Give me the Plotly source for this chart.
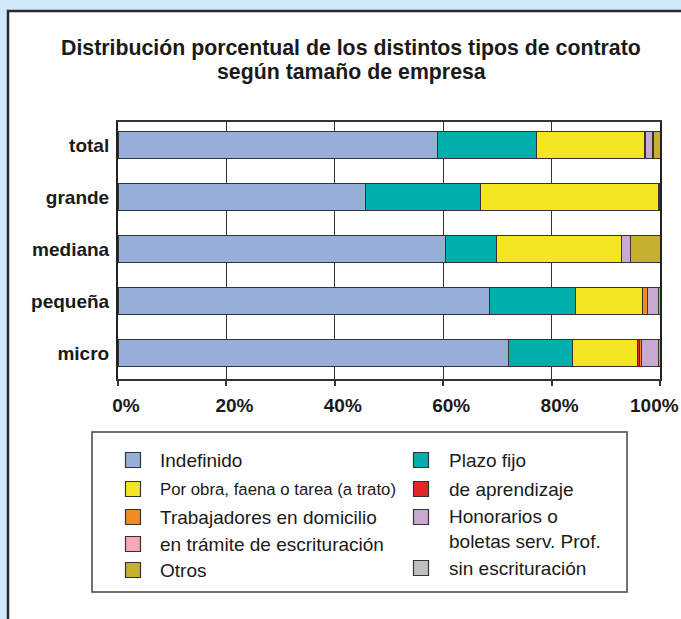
import plotly.graph_objects as go

# ---------------- data ----------------
categories = ["total", "grande", "mediana", "pequeña", "micro"]

series_names = [
    "Indefinido",
    "Plazo fijo",
    "Por obra, faena o tarea (a trato)",
    "de aprendizaje",
    "Trabajadores en domicilio",
    "Honorarios o boletas serv. Prof.",
    "en trámite de escrituración",
    "sin escrituración",
    "Otros",
]

indefinido    = [58.9, 45.6, 60.5, 68.6, 72.0]
plazo_fijo    = [18.3, 21.2,  9.4, 15.8, 11.9]
por_obra      = [20.0, 33.0, 23.0, 12.3, 11.9]
aprendizaje   = [0.1,  0.0,  0.0,  0.0,  0.5]
trabajadores  = [0.1,  0.0,  0.0,  1.0,  0.2]
honorarios    = [1.3,  0.1,  1.7,  2.1,  3.3]
en_tramite    = [0.1,  0.0,  0.0,  0.0,  0.0]
sin_escritura = [0.0,  0.0,  0.0,  0.0,  0.0]
otros         = [1.2,  0.1,  5.4,  0.2,  0.2]

series_values = [indefinido, plazo_fijo, por_obra, aprendizaje, trabajadores,
                 honorarios, en_tramite, sin_escritura, otros]

colors = ["#97aed9", "#00afaa", "#f6e523", "#e32726", "#f58a1f",
          "#c9a8d2", "#f7a9b6", "#c0c0c0", "#c7b02e"]

tick_values = [0, 20, 40, 60, 80, 100]
tick_labels = ["0%", "20%", "40%", "60%", "80%", "100%"]

title_lines = ["Distribución porcentual de los distintos tipos de contrato",
               "según tamaño de empresa"]

# legend layout (column, row position, label text)
legend_items = [
    ("Indefinido", "#97aed9", 0, 460, "Indefinido", 19),
    ("Por obra", "#f6e523", 0, 489, "Por obra, faena o tarea (a trato)", 16.8),
    ("Trabajadores", "#f58a1f", 0, 517, "Trabajadores en domicilio", 19),
    ("en trámite", "#f7a9b6", 0, 544, "en trámite de escrituración", 19),
    ("Otros", "#c7b02e", 0, 570, "Otros", 19),
    ("Plazo fijo", "#00afaa", 1, 460, "Plazo fijo", 19),
    ("aprendizaje", "#e32726", 1, 489, "de aprendizaje", 19),
    ("Honorarios", "#c9a8d2", 1, 517, "Honorarios o<br>boletas serv. Prof.", 19),
    ("sin escrituración", "#c0c0c0", 1, 568, "sin escrituración", 19),
]

# ---------------- geometry helpers ----------------
W, H = 681, 619
L, R, T, B = 118, 21, 122, 240
PW = W - L - R
PH = H - T - B


def px(x):
    return (x - L) / PW


def py(y):
    return (H - B - y) / PH


FONT = "Liberation Sans, Arial, sans-serif"
TICKFONT = dict(family=FONT, size=19, color="#1a1a1a", weight="bold")

fig = go.Figure()
for name, vals, col in zip(series_names, series_values, colors):
    fig.add_trace(go.Bar(
        y=categories, x=vals, orientation="h", name=name,
        marker=dict(color=col, line=dict(color="#333333", width=1)),
        showlegend=False, hoverinfo="x+y+name",
    ))

shapes = []
annotations = []

# white panel with border
shapes.append(dict(type="rect", xref="paper", yref="paper", layer="below",
                   x0=px(8), x1=px(760), y0=py(11), y1=py(700),
                   fillcolor="white", line=dict(color="#2a2a2a", width=2.5)))

# title
for i, line in enumerate(title_lines):
    annotations.append(dict(text=line, xref="paper", yref="paper",
                            x=px(351), y=py(48 + 24 * i), xanchor="center",
                            yanchor="middle", showarrow=False,
                            font=dict(family=FONT, size=21.3, color="#1a1a1a",
                                      weight="bold")))

# legend box
shapes.append(dict(type="rect", xref="paper", yref="paper",
                   x0=px(92), x1=px(627), y0=py(432), y1=py(592),
                   fillcolor="white", line=dict(color="#444444", width=1.5)))

col_sq_x = [133, 421]
col_tx_x = [158, 447]
sq = 15
for _, col, c, ycen, text, fsize in legend_items:
    cx = col_sq_x[c]
    shapes.append(dict(type="rect", xref="paper", yref="paper",
                       x0=px(cx - sq / 2), x1=px(cx + sq / 2),
                       y0=py(ycen - sq / 2), y1=py(ycen + sq / 2),
                       fillcolor=col, line=dict(color="#333333", width=1.2)))
    ylab = ycen
    if "<br>" in text:
        ylab = ycen + 12
    annotations.append(dict(text=text, xref="paper", yref="paper",
                            x=px(col_tx_x[c]), y=py(ylab), xanchor="left",
                            yanchor="middle", align="left", showarrow=False,
                            font=dict(family=FONT, size=fsize, color="#1a1a1a")))

# tick labels sit a little right of their ticks; the last one would run off
# the page, so it is placed flush with the right edge instead
shown_ticks = tick_labels[:-1] + [""]
annotations.append(dict(text=tick_labels[-1], xref="paper", yref="paper",
                        x=px(681), y=py(405), xanchor="right", yanchor="middle",
                        showarrow=False, font=TICKFONT))

fig.update_layout(
    width=W, height=H,
    autosize=False,
    margin=dict(l=L, r=R, t=T, b=B, pad=0, autoexpand=False),
    paper_bgcolor="#cfe9fb",
    plot_bgcolor="white",
    barmode="stack",
    bargap=0.48,
    shapes=shapes,
    annotations=annotations,
    font=dict(family=FONT, color="#1a1a1a"),
    xaxis=dict(
        range=[0, 100], tickvals=tick_values, ticktext=shown_ticks,
        showgrid=True, gridcolor="#333333", gridwidth=1,
        showline=True, linecolor="#333333", linewidth=1.5, mirror=True,
        ticks="outside", ticklen=5, tickcolor="#333333", tickwidth=1.5,
        tickfont=TICKFONT,
        ticklabelstandoff=3, ticklabelshift=8, ticklabeloverflow="allow",
        zeroline=False, fixedrange=True, automargin=False,
    ),
    yaxis=dict(
        categoryorder="array", categoryarray=categories,
        range=[4.5, -0.45],
        showline=True, linecolor="#222222", linewidth=2, mirror=True,
        showgrid=False, ticks="",
        tickfont=TICKFONT,
        ticklabelstandoff=3, fixedrange=True, automargin=False,
    ),
)

fig.write_html(
    "out.html",
    config={"displayModeBar": False, "responsive": False},
    post_script=("document.documentElement.style.overflow='hidden';"
                 "document.body.style.margin='0';"
                 "document.body.style.overflow='hidden';"),
)
